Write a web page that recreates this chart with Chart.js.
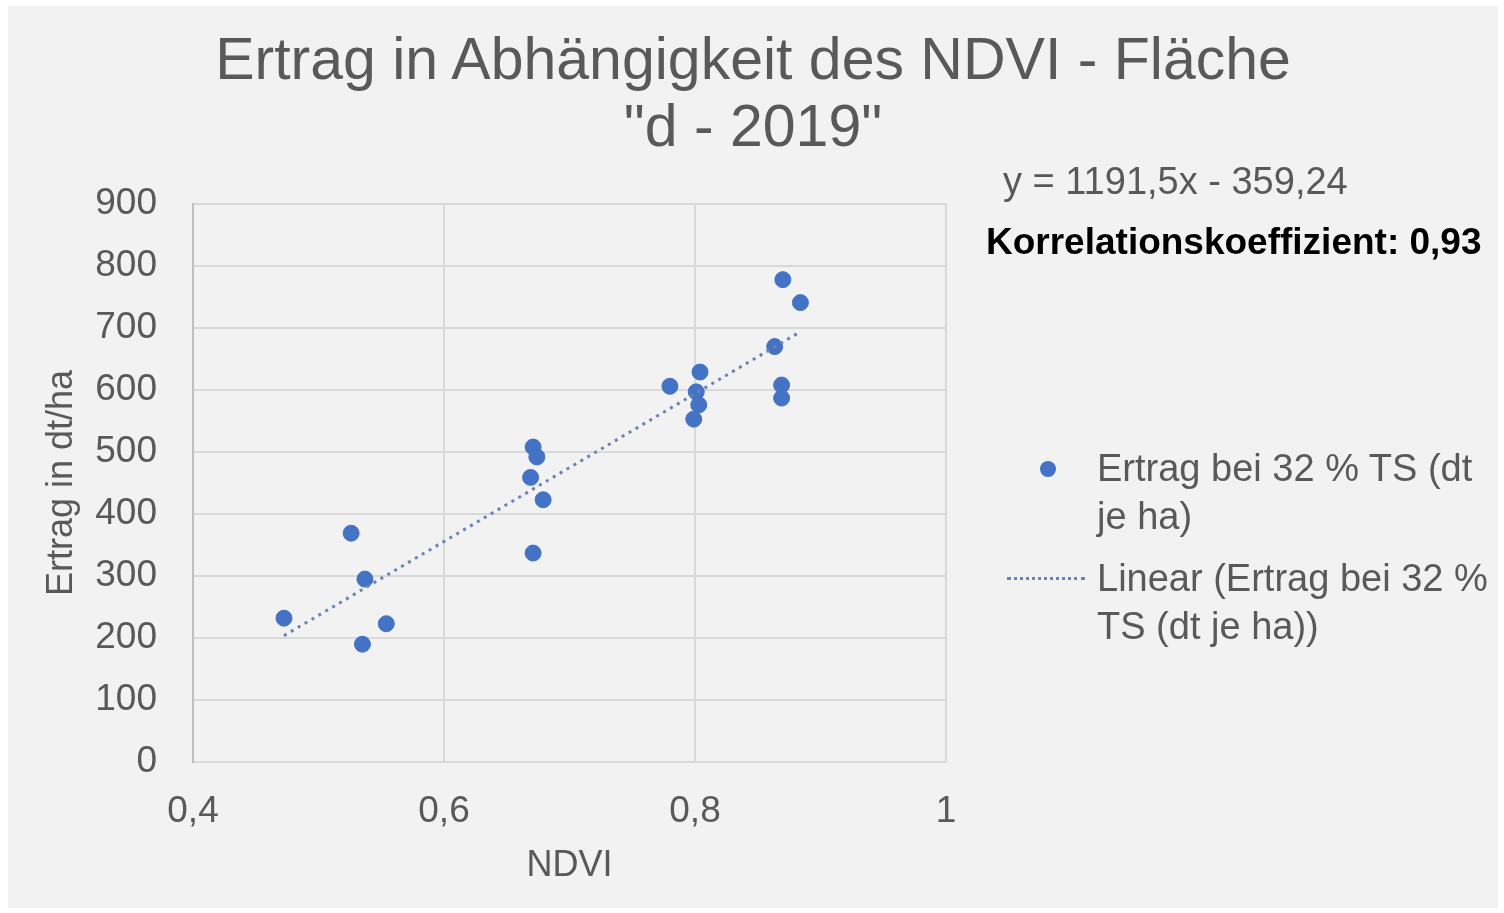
<!DOCTYPE html>
<html>
<head>
<meta charset="utf-8">
<script src="https://cdn.jsdelivr.net/npm/chart.js@4"></script>
<style>
  body { margin: 0; background: #ffffff; font-family: "Liberation Sans", Arial, sans-serif; }
  #box { position: absolute; left: 8px; top: 6px; width: 1490px; height: 902px; background: #f2f2f2; }
  #c { position: absolute; left: 0; top: 0; }
  #titel { position: absolute; left: 0; top: 20px; width: 1490px; text-align: center; color: #595959; font-size: 59px; line-height: 67px; }
  .txt { position: absolute; color: #595959; font-size: 38px; white-space: nowrap; }
  #eq { left: 995px; top: 154px; }
  #korr { left: 978px; top: 215px; color: #000; font-weight: bold; font-size: 37px; }
  .leg { position: absolute; color: #595959; font-size: 38px; line-height: 48px; white-space: nowrap; }
  #leg1 { left: 1089px; top: 438px; }
  #leg2 { left: 1089px; top: 548px; }
  #dot { position: absolute; left: 1032px; top: 455px; width: 16px; height: 16px; border-radius: 50%; background: #4472c4; }
  #dash { position: absolute; left: 999px; top: 571px; width: 78px; border-top: 3px dotted #6a83b0; }
</style>
</head>
<body>
<div id="box">
  <canvas id="c" width="1490" height="902"></canvas>
  <div id="titel">Ertrag in Abhängigkeit des NDVI - Fläche<br>"d - 2019"</div>
  <div class="txt" id="eq">y = 1191,5x - 359,24</div>
  <div class="txt" id="korr">Korrelationskoeffizient: 0,93</div>
  <div id="dot"></div>
  <div class="leg" id="leg1">Ertrag bei 32 % TS (dt<br>je ha)</div>
  <div id="dash"></div>
  <div class="leg" id="leg2">Linear (Ertrag bei 32 %<br>TS (dt je ha))</div>
</div>
<script>
// NDVI-Werte und Ertrag (dt/ha)
const ndvi = [0.4725, 0.526, 0.537, 0.535, 0.554, 0.671, 0.674, 0.669, 0.679, 0.671,
              0.780, 0.804, 0.801, 0.803, 0.799, 0.8635, 0.869, 0.869, 0.870, 0.884];
const ertrag = [232, 369, 295, 190, 223, 508, 492, 459, 423, 337,
                606, 629, 597, 576, 553, 670, 608, 587, 778, 741];

// Trendlinie laut Gleichung
const steigung = 1191.5;
const achsenabschnitt = -359.24;

const xTicks = [0.4, 0.6, 0.8, 1];
const yTicks = [0, 100, 200, 300, 400, 500, 600, 700, 800, 900];

const punkte = ndvi.map((v, i) => ({x: v, y: ertrag[i]}));
const xMin = Math.min(...ndvi), xMax = Math.max(...ndvi);
const trend = [
  {x: xMin, y: steigung * xMin + achsenabschnitt},
  {x: xMax, y: steigung * xMax + achsenabschnitt}
];

const grau = '#595959';
const schrift = 'Liberation Sans';

const ctx = document.getElementById('c').getContext('2d');
const chart = new Chart(ctx, {
  type: 'scatter',
  data: {
    datasets: [{
      label: 'Ertrag bei 32 % TS (dt je ha)',
      data: punkte,
      backgroundColor: '#4472c4',
      borderColor: '#4472c4',
      pointRadius: 8,
      pointHoverRadius: 8,
      order: 1
    }, {
      label: 'Linear (Ertrag bei 32 % TS (dt je ha))',
      type: 'line',
      data: trend,
      borderColor: '#6a83b0',
      borderWidth: 3,
      borderDash: [3, 5],
      pointRadius: 0,
      fill: false,
      order: 0
    }]
  },
  options: {
    responsive: false,
    animation: false,
    layout: { padding: { left: 32, right: 552, top: 198, bottom: 20 } },
    plugins: {
      legend: { display: false },
      tooltip: { enabled: false },
      title: { display: false }
    },
    scales: {
      x: {
        type: 'linear',
        min: 0.4,
        max: 1,
        afterBuildTicks: s => { s.ticks = xTicks.map(v => ({value: v})); },
        afterFit: s => { s.height = 126; },
        ticks: {
          color: grau,
          font: { family: schrift, size: 37 },
          padding: 28,
          callback: v => String(v).replace('.', ',')
        },
        grid: { color: '#d9d9d9', lineWidth: 2, drawTicks: false },
        border: { display: false },
        title: {
          display: true,
          text: 'NDVI',
          color: grau,
          font: { family: schrift, size: 36 },
          padding: { top: 0, bottom: 0 }
        }
      },
      y: {
        min: 0,
        max: 900,
        afterBuildTicks: s => { s.ticks = yTicks.map(v => ({value: v})); },
        afterFit: s => { s.width = 153; },
        ticks: {
          color: grau,
          font: { family: schrift, size: 37 },
          padding: 36
        },
        grid: { color: '#d9d9d9', lineWidth: 2, drawTicks: false },
        border: { color: '#bfbfbf', width: 2 },
        title: {
          display: true,
          text: 'Ertrag in dt/ha',
          color: grau,
          font: { family: schrift, size: 36 },
          padding: { top: 0, bottom: 0 }
        }
      }
    }
  }
});
</script>
</body>
</html>
